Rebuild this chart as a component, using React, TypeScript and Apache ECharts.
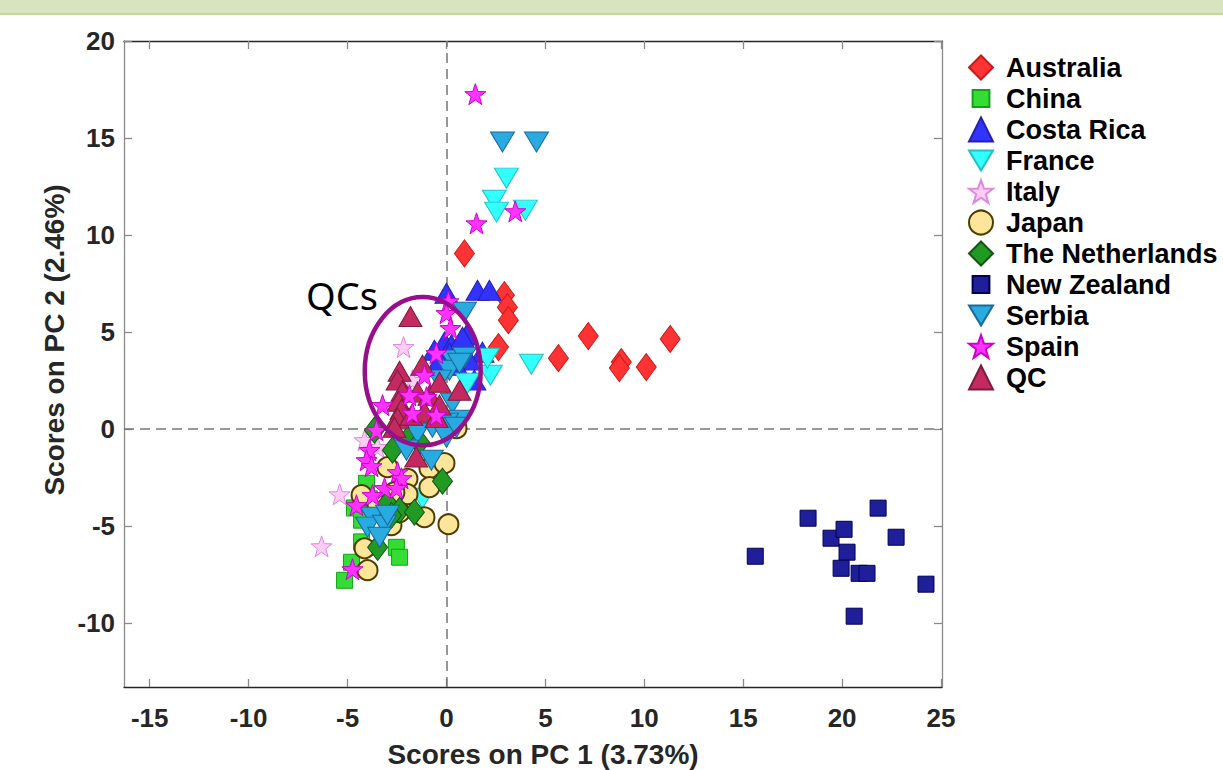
import { useEffect, useRef } from 'react';
import * as echarts from 'echarts';

const categories = ['Australia', 'China', 'Costa Rica', 'France', 'Italy', 'Japan', 'The Netherlands', 'New Zealand', 'Serbia', 'Spain', 'QC'];

const australia = [[0.91, 9.05], [2.93, 6.9], [3.08, 6.28], [3.13, 5.61], [2.63, 4.22], [5.66, 3.65], [7.17, 4.79], [8.84, 3.45], [8.74, 3.14], [10.1, 3.19], [11.31, 4.64]];
const china = [[-4.04, -2.8], [-4.65, -4.07], [-4.29, -4.7], [-4.29, -5.82], [-2.53, -6.1], [-2.37, -6.61], [-4.8, -6.87], [-5.15, -7.8], [-3.9, -3.6]];
const costaRica = [[0, 7.0], [1.57, 7.15], [2.17, 7.15], [1.01, 4.84], [-0.1, 4.48], [0.25, 4.33], [-0.61, 4.06], [0.81, 4.73], [0.15, 3.91], [1.82, 3.96], [1.16, 3.55], [0.5, 3.29], [-0.35, 3.55], [1.41, 2.52]];
const france = [[3.03, 12.93], [2.42, 11.79], [2.53, 11.18], [3.99, 11.28], [4.29, 3.34], [2.22, 2.77], [2.07, 3.65], [1.06, 2.36], [-1.21, -3.57]];
const italy = [[-2.17, 4.22], [-5.4, -3.37], [-6.31, -6.05], [-1.72, 2.52], [-3.48, -0.94], [-4.14, -0.58]];
const japan = [[0.51, 0.04], [-2.98, -1.97], [-1.97, -2.57], [-0.86, -2.02], [-0.1, -1.76], [-0.86, -3.0], [-1.97, -3.36], [-2.63, -3.26], [-4.29, -3.41], [-1.11, -4.55], [0.1, -4.91], [-2.78, -4.96], [-4.14, -6.15], [-3.99, -7.28], [-3.48, -3.93], [-2.37, -4.29]];
const netherlands = [[-3.64, -0.06], [-1.87, -0.42], [-2.73, -1.09], [-0.2, -2.69], [-2.98, -3.83], [-2.37, -4.19], [-1.62, -4.29], [-3.48, -6.1], [-2.78, -4.45], [-1.36, -0.68]];
const newZealand = [[15.61, -6.56], [18.28, -4.6], [19.44, -5.63], [20.1, -5.17], [20.25, -6.35], [19.95, -7.18], [20.86, -7.44], [21.26, -7.44], [21.82, -4.08], [22.73, -5.58], [24.24, -8.0], [20.61, -9.65]];
const serbia = [[2.83, 14.79], [4.55, 14.79], [0.91, 6.02], [0.3, 3.55], [0.91, 3.7], [0.15, 3.03], [-0.35, 2.52], [0.66, 3.39], [0.3, 1.33], [0.66, 0.45], [0, 0.3], [-0.71, 0.09], [-1.46, -0.22], [-2.02, -1.09], [-0.76, -1.61], [0, -0.42], [0.51, 0.09], [-3.74, -4.55], [-3.99, -5.06], [-3.13, -4.96], [-3.38, -5.58], [-2.98, -4.45]];
const spain = [[1.46, 17.26], [1.52, 10.6], [3.48, 11.22], [0.1, 6.58], [0, 5.97], [0.2, 5.2], [-0.51, 3.91], [-1.11, 2.77], [-1.01, 1.64], [-0.51, 0.71], [-1.72, 0.81], [-3.23, 1.23], [-3.54, -0.06], [-3.89, -1.09], [-4.04, -1.61], [-3.79, -1.92], [-2.47, -2.23], [-2.27, -2.54], [-3.13, -3.05], [-2.53, -3.05], [-3.74, -3.41], [-4.55, -3.93], [-4.75, -7.23], [-1.87, 1.74]];
const qc = [[-1.82, 5.8], [-2.37, 2.98], [-2.47, 2.52], [-1.21, 3.29], [-2.22, 1.95], [-2.42, 1.43], [-2.27, 1.02], [0.66, 2.0], [-1.46, 1.9], [-0.86, 1.74], [-0.35, 1.23], [-2.47, 0.56], [-1.77, 0.71], [-1.11, 0.87], [-0.35, 2.41], [-2.63, 0.09], [-1.53, -1.44], [-0.5, 0.6]];

const xTicks = [-15, -10, -5, 0, 5, 10, 15, 20, 25];
const yTicks = [-10, -5, 0, 5, 10, 15, 20];

const qcEllipse = { cx: -1.2, cy: 2.98, rx: 2.93, ry: 3.82 };

const STAR = 'path://M0,-10 L2.35,-3.24 L9.51,-3.09 L3.8,1.24 L5.88,8.09 L0,4 L-5.88,8.09 L-3.8,1.24 L-9.51,-3.09 L-2.35,-3.24 Z';
const SMALL_SQUARE = 'path://M-10,-10 L-9.99,-10 M10,10 L9.99,10 M-7,-7 L7,-7 L7,7 L-7,7 Z';
const DOWN_TRI = 'path://M-12,-10 L12,-10 L0,10 Z';

const FONT = '"Liberation Sans", Arial, Helvetica, sans-serif';

export default function App() {
  const ref = useRef<HTMLDivElement>(null);

  useEffect(() => {
    document.body.style.margin = '0';
    const chart = echarts.init(ref.current!, null, { renderer: 'svg' });

    const mk = (name: string, data: number[][], symbol: string, size: any, color: string, border: string, extra: any = {}) => ({
      name,
      type: 'scatter',
      data,
      symbol,
      symbolSize: size,
      itemStyle: { color, borderColor: border, borderWidth: 1, opacity: 1 },
      emphasis: { disabled: true },
      ...extra,
    });

    const seriesList: any[] = [
      mk('Australia', australia, 'diamond', [20, 27], '#ff3333', '#c41a1a', {
        markLine: {
          silent: true,
          symbol: ['none', 'none'],
          label: { show: false },
          lineStyle: { type: [10, 6], color: '#777777', width: 1.5 },
          data: [{ xAxis: 0 }, { yAxis: 0 }],
          z: 1,
        },
      }),
      mk('China', china, 'rect', 16, '#33dd33', '#16a016'),
      mk('Costa Rica', costaRica, 'triangle', [23, 20], '#3333ff', '#2222b0'),
      mk('France', france, DOWN_TRI, [24, 20], '#33ffff', '#22c0c0'),
      mk('Italy', italy, STAR, 21, '#ffccf5', '#dd88dd'),
      mk('Japan', japan, 'circle', 20, '#ffe599', '#4d3d00', {}),
      mk('The Netherlands', netherlands, 'diamond', [20, 26], '#229922', '#115511'),
      mk('New Zealand', newZealand, 'rect', 16, '#1f1f99', '#000055'),
      mk('Serbia', serbia, DOWN_TRI, [24, 20], '#29aae1', '#1a6a99'),
      mk('QC', qc, 'triangle', [23, 20], '#c4295f', '#7a1c40'),
      mk('Spain', spain, STAR, 21, '#ff33ff', '#cc00cc'),
    ];
    seriesList[5].itemStyle.borderWidth = 2;

    const legendData = categories.map((name) =>
      name === 'China' || name === 'New Zealand'
        ? { name, icon: SMALL_SQUARE }
        : name === 'France' || name === 'Serbia'
        ? { name, icon: DOWN_TRI }
        : { name }
    );

    const xBase = {
      type: 'value',
      min: -16.3,
      max: 25.05,
      splitLine: { show: false },
      axisLine: { show: true, onZero: false, lineStyle: { color: '#262626', width: 1.3 } },
      axisTick: { show: true, inside: true, length: 8, customValues: xTicks, lineStyle: { color: '#8a8a8a', width: 1.3 } },
    };
    const yBase = {
      type: 'value',
      min: -13.3,
      max: 20,
      splitLine: { show: false },
      axisLine: { show: true, onZero: false, lineStyle: { color: '#8a8a8a', width: 1.3 } },
      axisTick: { show: true, inside: true, length: 8, customValues: yTicks, lineStyle: { color: '#8a8a8a', width: 1.3 } },
    };
    const labelStyle = { fontSize: 26, fontWeight: 'bold', color: '#262626', fontFamily: FONT };

    chart.setOption({
      animation: false,
      backgroundColor: '#ffffff',
      grid: { left: 124, top: 41, right: 281, bottom: 83, containLabel: false },
      xAxis: [
        { ...xBase, position: 'bottom', axisLabel: { ...labelStyle, customValues: xTicks, margin: 18 } },
        { ...xBase, position: 'top', axisLabel: { show: false } },
      ],
      yAxis: [
        { ...yBase, position: 'left', axisLabel: { ...labelStyle, customValues: yTicks, margin: 9 } },
        { ...yBase, position: 'right', axisLabel: { show: false } },
      ],
      legend: {
        orient: 'vertical',
        left: 963,
        top: 49,
        itemWidth: 24,
        itemHeight: 24,
        itemGap: 4,
        selectedMode: false,
        data: legendData,
        textStyle: { fontSize: 27, fontWeight: 'bold', color: '#000000', fontFamily: FONT, padding: [0, 0, 0, 8], lineHeight: 27 },
      },
      series: seriesList,
    });

    const c = chart.convertToPixel({ gridIndex: 0 }, [qcEllipse.cx, qcEllipse.cy]) as number[];
    const e = chart.convertToPixel({ gridIndex: 0 }, [qcEllipse.cx + qcEllipse.rx, qcEllipse.cy + qcEllipse.ry]) as number[];

    chart.setOption({
      graphic: [
        { type: 'rect', shape: { x: 0, y: 0, width: 1223, height: 13 }, style: { fill: '#d7e4bd' }, z: 100 },
        { type: 'rect', shape: { x: 0, y: 13, width: 1223, height: 2 }, style: { fill: '#c4d79b' }, z: 100 },
        {
          type: 'ellipse',
          shape: { cx: c[0], cy: c[1], rx: Math.abs(e[0] - c[0]), ry: Math.abs(c[1] - e[1]) },
          style: { fill: 'none', stroke: '#980f8c', lineWidth: 4.5 },
          z: 100,
        },
        {
          type: 'text', x: 306, y: 295, z: 100,
          style: { text: 'QCs', font: '38px "Noto Sans", "Open Sans", sans-serif', fill: '#000000', textAlign: 'left', textVerticalAlign: 'middle' },
        },
        {
          type: 'text', x: 543, y: 754, z: 100,
          style: { text: 'Scores on PC 1 (3.73%)', font: `bold 28px ${FONT}`, fill: '#262626', textAlign: 'center', textVerticalAlign: 'middle' },
        },
        {
          type: 'text', x: 54, y: 340, rotation: Math.PI / 2, z: 100,
          style: { text: 'Scores on PC 2 (2.46%)', font: `bold 28px ${FONT}`, fill: '#262626', textAlign: 'center', textVerticalAlign: 'middle' },
        },
      ],
    });

    return () => chart.dispose();
  }, []);

  return <div ref={ref} style={{ width: 1223, height: 770 }} />;
}
